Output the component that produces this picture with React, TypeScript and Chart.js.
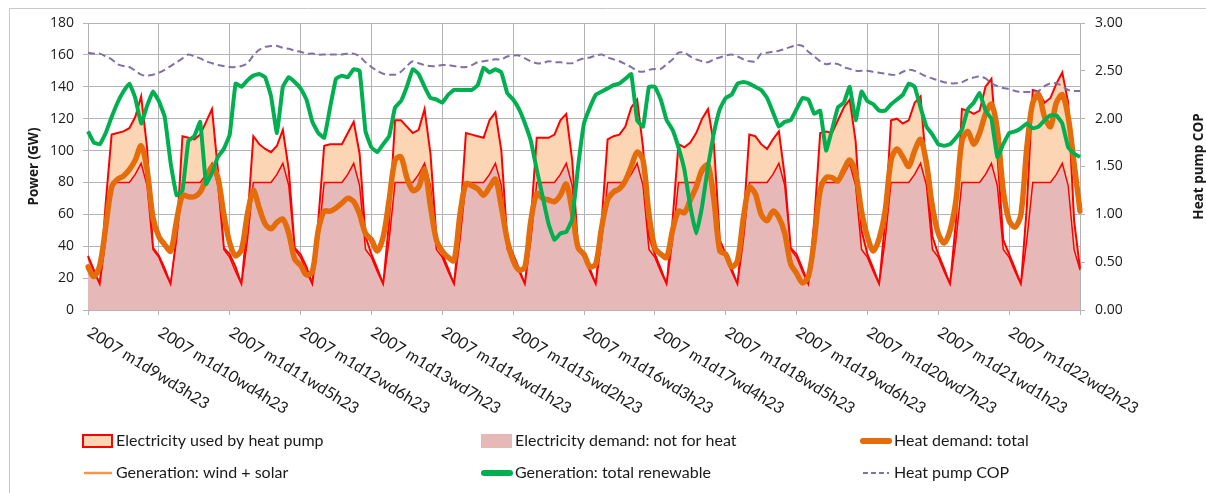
import React, { useEffect, useRef } from 'react';
import { Chart, registerables } from 'chart.js';

Chart.register(...registerables);

// Day tick labels (one every 24 h, at hour 23)
const dayLabels = [
  '2007 m1d9wd3h23', '2007 m1d10wd4h23', '2007 m1d11wd5h23', '2007 m1d12wd6h23',
  '2007 m1d13wd7h23', '2007 m1d14wd1h23', '2007 m1d15wd2h23', '2007 m1d16wd3h23',
  '2007 m1d17wd4h23', '2007 m1d18wd5h23', '2007 m1d19wd6h23', '2007 m1d20wd7h23',
  '2007 m1d21wd1h23', '2007 m1d22wd2h23',
];

// Values sampled every 2 hours, starting at d9 h23 (GW)
const baseDemand = [
  33, 24, 16, 44, 80, 80, 80, 80, 85, 92, 78, 38,
  33, 24, 16, 44, 80, 80, 80, 80, 85, 92, 78, 38,
  33, 24, 16, 44, 80, 80, 80, 80, 85, 92, 78, 38,
  33, 24, 16, 44, 80, 80, 80, 80, 85, 92, 78, 38,
  33, 24, 16, 44, 80, 80, 80, 80, 85, 92, 78, 38,
  33, 24, 16, 44, 80, 80, 80, 80, 85, 92, 78, 38,
  33, 24, 16, 44, 80, 80, 80, 80, 85, 92, 78, 38,
  33, 24, 16, 44, 80, 80, 80, 80, 85, 92, 78, 38,
  33, 24, 16, 44, 80, 80, 80, 80, 85, 92, 78, 38,
  33, 24, 16, 44, 80, 80, 80, 80, 85, 92, 78, 38,
  33, 24, 16, 44, 80, 80, 80, 80, 85, 92, 78, 38,
  33, 24, 16, 44, 80, 80, 80, 80, 85, 92, 78, 38,
  33, 24, 16, 44, 80, 80, 80, 80, 85, 92, 78, 38,
  33, 24, 16, 44, 80, 80, 80, 80, 85, 92, 78, 38,
  25,
];

// Base demand + electricity used by heat pump (GW)
const totalDemand = [
  34, 25, 16, 67, 110, 111, 112, 114, 121, 134, 102, 39,
  34, 26, 16, 46, 109, 108, 107, 110, 118, 126, 88, 39,
  35, 27, 16, 56, 109, 104, 101, 99, 103, 113, 88, 39,
  35, 27, 16, 56, 103, 104, 104, 104, 111, 118, 98, 46,
  35, 26, 16, 56, 119, 119, 115, 111, 113, 126, 98, 46,
  35, 26, 16, 56, 111, 110, 109, 108, 119, 124, 100, 44,
  35, 26, 16, 56, 108, 108, 108, 110, 119, 123, 94, 39,
  35, 26, 16, 56, 107, 109, 110, 115, 127, 132, 102, 46,
  35, 26, 16, 56, 104, 102, 105, 111, 120, 126, 104, 44,
  35, 26, 16, 56, 110, 109, 104, 101, 107, 112, 84, 39,
  35, 26, 16, 56, 111, 112, 111, 119, 127, 132, 106, 50,
  35, 26, 16, 56, 119, 120, 117, 119, 130, 134, 88, 46,
  35, 26, 16, 56, 126, 125, 123, 125, 140, 145, 98, 44,
  35, 26, 16, 65, 138, 137, 130, 133, 142, 149, 130, 56,
  26,
];

const heatDemand = [
  27, 21, 28, 52, 77, 82, 84, 88, 94, 103, 88, 58,
  46, 41, 37, 56, 72, 71, 71, 74, 82, 90, 83, 60,
  42, 34, 38, 60, 75, 64, 54, 51, 55, 57, 48, 32,
  28, 22, 24, 50, 62, 62, 64, 67, 70, 68, 60, 48,
  44, 37, 46, 69, 94, 96, 83, 75, 77, 88, 65, 44,
  37, 33, 31, 60, 79, 78, 76, 72, 77, 82, 65, 44,
  31, 25, 27, 56, 73, 70, 69, 68, 72, 79, 62, 39,
  35, 27, 29, 52, 69, 74, 76, 81, 90, 99, 94, 60,
  39, 35, 33, 50, 62, 61, 69, 77, 88, 91, 69, 37,
  35, 27, 31, 58, 77, 73, 60, 56, 62, 58, 48, 29,
  23, 17, 21, 44, 75, 83, 83, 81, 88, 94, 86, 62,
  46, 37, 45, 62, 94, 101, 96, 90, 100, 107, 92, 65,
  48, 42, 50, 69, 106, 112, 104, 111, 123, 129, 113, 75,
  56, 52, 60, 102, 130, 135, 121, 115, 130, 135, 121, 92,
  62,
];

const genRenewable = [
  112, 105, 104, 111, 121, 130, 137, 142, 133, 117, 128, 137,
  131, 121, 92, 72, 75, 106, 109, 118, 79, 86, 96, 101,
  110, 142, 140, 144, 147, 148, 146, 134, 111, 140, 146, 143,
  139, 132, 118, 111, 108, 127, 145, 147, 146, 151, 150, 112,
  102, 99, 104, 109, 127, 131, 140, 151, 148, 140, 133, 132,
  130, 135, 138, 138, 138, 138, 141, 152, 149, 151, 149, 136,
  132, 126, 117, 106, 88, 71, 54, 44, 48, 49, 57, 90,
  117, 127, 135, 137, 139, 141, 142, 145, 148, 119, 115, 140,
  140, 132, 119, 113, 102, 88, 65, 48, 65, 90, 111, 126,
  133, 135, 142, 143, 142, 140, 138, 133, 124, 115, 118, 119,
  126, 133, 132, 123, 125, 100, 113, 127, 130, 140, 119, 137,
  131, 129, 125, 125, 129, 132, 135, 142, 140, 127, 115, 110,
  104, 103, 104, 108, 113, 126, 130, 136, 125, 120, 96, 104,
  111, 112, 114, 117, 114, 115, 119, 122, 122, 117, 102, 98,
  96,
];

// Not visible separately in the picture (hidden under total renewable)
const genWindSolar: number[] = [];

const heatPumpCOP = [
  2.69, 2.68, 2.68, 2.65, 2.62, 2.57, 2.55, 2.54, 2.50, 2.46, 2.45, 2.46,
  2.48, 2.51, 2.55, 2.59, 2.63, 2.67, 2.65, 2.63, 2.60, 2.58, 2.56, 2.55,
  2.54, 2.54, 2.55, 2.58, 2.66, 2.72, 2.75, 2.76, 2.76, 2.74, 2.73, 2.71,
  2.70, 2.68, 2.68, 2.67, 2.67, 2.67, 2.67, 2.67, 2.68, 2.68, 2.65, 2.59,
  2.54, 2.50, 2.47, 2.46, 2.46, 2.49, 2.55, 2.60, 2.58, 2.56, 2.55, 2.55,
  2.56, 2.56, 2.55, 2.54, 2.54, 2.56, 2.59, 2.60, 2.61, 2.62, 2.62, 2.65,
  2.66, 2.66, 2.63, 2.60, 2.58, 2.58, 2.60, 2.59, 2.59, 2.58, 2.58, 2.61,
  2.63, 2.64, 2.66, 2.67, 2.64, 2.62, 2.60, 2.57, 2.54, 2.50, 2.49, 2.51,
  2.52, 2.52, 2.57, 2.62, 2.69, 2.69, 2.65, 2.62, 2.60, 2.59, 2.62, 2.64,
  2.66, 2.67, 2.65, 2.62, 2.60, 2.60, 2.68, 2.69, 2.70, 2.71, 2.73, 2.75,
  2.77, 2.76, 2.70, 2.65, 2.60, 2.57, 2.58, 2.57, 2.54, 2.52, 2.50, 2.50,
  2.50, 2.49, 2.48, 2.47, 2.46, 2.46, 2.49, 2.51, 2.50, 2.47, 2.44, 2.42,
  2.40, 2.38, 2.37, 2.37, 2.38, 2.41, 2.43, 2.44, 2.42, 2.37, 2.34, 2.32,
  2.31, 2.29, 2.28, 2.28, 2.28, 2.29, 2.34, 2.37, 2.37, 2.34, 2.30, 2.29,
  2.29,
];

const pointLabels = baseDemand.map((_, i) => String(i));

const GRID = '#B4B4B4';
const RED = '#FF0000';
const PEACH = '#FCD5B4';
const PINK = '#E6B9B8';
const ORANGE = '#E46C0A';
const LIGHT_ORANGE = '#F79646';
const GREEN = '#00B050';
const PURPLE = '#8170A6';
const TEXT = '#1a1a1a';

const decorPlugin = {
  id: 'decor',
  afterDraw(chart: any) {
    const ctx = chart.ctx as CanvasRenderingContext2D;
    const xs = chart.scales.x;
    const area = chart.chartArea;

    // frame
    ctx.save();
    ctx.strokeStyle = '#C8C8C8';
    ctx.lineWidth = 1;
    ctx.beginPath();
    ctx.moveTo(9.5, 493);
    ctx.lineTo(9.5, 8.5);
    ctx.lineTo(1206, 8.5);
    ctx.stroke();
    ctx.restore();

    // rotated x labels
    ctx.save();
    ctx.font = '16px Lato, "Open Sans", sans-serif';
    ctx.fillStyle = TEXT;
    ctx.textAlign = 'left';
    ctx.textBaseline = 'middle';
    dayLabels.forEach((lab, d) => {
      const px = xs.getPixelForValue(d * 12);
      ctx.save();
      ctx.translate(px + 1, area.bottom + 21);
      ctx.rotate((32 * Math.PI) / 180);
      ctx.fillText(lab, 0, 0);
      ctx.restore();
    });
    ctx.restore();

    // axis titles
    const midY = (area.top + area.bottom) / 2;
    ctx.save();
    ctx.font = 'bold 13.5px "Open Sans", sans-serif';
    ctx.fillStyle = TEXT;
    ctx.textAlign = 'center';
    ctx.textBaseline = 'middle';
    ctx.save();
    ctx.translate(34, midY);
    ctx.rotate(-Math.PI / 2);
    ctx.fillText('Power (GW)', 0, 0);
    ctx.restore();
    ctx.save();
    ctx.translate(1199, midY);
    ctx.rotate(-Math.PI / 2);
    ctx.fillText('Heat pump COP', 0, 0);
    ctx.restore();
    ctx.restore();

    // legend
    const items = [
      { text: 'Electricity used by heat pump', kind: 'boxBorder', x: 82, y: 441 },
      { text: 'Electricity demand: not for heat', kind: 'box', x: 481, y: 441 },
      { text: 'Heat demand: total', kind: 'thick', color: ORANGE, x: 860, y: 441 },
      { text: 'Generation: wind + solar', kind: 'thin', color: LIGHT_ORANGE, x: 82, y: 473 },
      { text: 'Generation: total renewable', kind: 'thick', color: GREEN, x: 481, y: 473 },
      { text: 'Heat pump COP', kind: 'dash', color: PURPLE, x: 860, y: 473 },
    ];
    ctx.save();
    items.forEach((it: any) => {
      const { x, y } = it;
      ctx.save();
      if (it.kind === 'boxBorder') {
        ctx.fillStyle = PEACH;
        ctx.fillRect(x + 1, y - 6, 29, 12);
        ctx.strokeStyle = RED;
        ctx.lineWidth = 2;
        ctx.strokeRect(x + 1, y - 6, 29, 12);
      } else if (it.kind === 'box') {
        ctx.fillStyle = PINK;
        ctx.fillRect(x, y - 7, 31, 14);
      } else {
        ctx.strokeStyle = it.color;
        ctx.lineCap = it.kind === 'dash' ? 'butt' : 'round';
        ctx.lineWidth = it.kind === 'thick' ? 6 : it.kind === 'thin' ? 2.5 : 2;
        if (it.kind === 'dash') ctx.setLineDash([5, 3]);
        ctx.beginPath();
        ctx.moveTo(x + 3, y);
        ctx.lineTo(x + 29, y);
        ctx.stroke();
      }
      ctx.restore();
      ctx.font = '16px Lato, "Open Sans", sans-serif';
      ctx.fillStyle = TEXT;
      ctx.textAlign = 'left';
      ctx.textBaseline = 'middle';
      ctx.fillText(it.text, x + 34, y);
    });
    ctx.restore();
  },
};

export default function App() {
  const canvasRef = useRef<HTMLCanvasElement | null>(null);

  useEffect(() => {
    if (!canvasRef.current) return;
    const chart = new Chart(canvasRef.current, {
      type: 'line',
      data: {
        labels: pointLabels,
        datasets: [
          {
            label: 'Electricity demand: not for heat',
            data: baseDemand,
            yAxisID: 'y',
            fill: 'origin',
            backgroundColor: PINK,
            borderColor: RED,
            borderWidth: 1.5,
            tension: 0,
            order: 5,
          },
          {
            label: 'Electricity used by heat pump',
            data: totalDemand,
            yAxisID: 'y',
            fill: '-1',
            backgroundColor: PEACH,
            borderColor: RED,
            borderWidth: 2,
            tension: 0,
            order: 6,
          },
          {
            label: 'Heat demand: total',
            data: heatDemand,
            yAxisID: 'y',
            fill: false,
            borderColor: ORANGE,
            borderWidth: 5.5,
            tension: 0.3,
            borderJoinStyle: 'round',
            borderCapStyle: 'round',
            order: 4,
          },
          {
            label: 'Generation: wind + solar',
            data: genWindSolar,
            yAxisID: 'y',
            fill: false,
            borderColor: LIGHT_ORANGE,
            borderWidth: 2,
            order: 3,
          },
          {
            label: 'Generation: total renewable',
            data: genRenewable,
            yAxisID: 'y',
            fill: false,
            borderColor: GREEN,
            borderWidth: 4,
            tension: 0.1,
            borderJoinStyle: 'round',
            order: 2,
          },
          {
            label: 'Heat pump COP',
            data: heatPumpCOP,
            yAxisID: 'y2',
            fill: false,
            borderColor: PURPLE,
            borderWidth: 2,
            borderDash: [7, 4],
            tension: 0.3,
            order: 1,
          },
        ],
      },
      options: {
        responsive: false,
        animation: false,
        events: [],
        layout: { padding: { top: 23, left: 0, right: 0, bottom: 0 } },
        elements: { point: { radius: 0 } },
        plugins: { legend: { display: false }, tooltip: { enabled: false } },
        scales: {
          x: {
            type: 'category',
            offset: false,
            afterBuildTicks: (s: any) => {
              s.ticks = s.ticks.filter((t: any) => t.value % 12 === 0);
            },
            afterFit: (s: any) => {
              s.height = 183;
            },
            ticks: { display: false, autoSkip: false },
            grid: { color: GRID, tickLength: 5, drawTicks: true },
            border: { color: GRID },
          },
          y: {
            position: 'left',
            min: 0,
            max: 180,
            afterFit: (s: any) => {
              s.width = 88;
            },
            ticks: {
              stepSize: 20,
              padding: 9,
              color: TEXT,
              font: { family: '"Open Sans", sans-serif', size: 14 },
            },
            grid: { color: GRID, tickLength: 5 },
            border: { color: GRID },
          },
          y2: {
            position: 'right',
            min: 0,
            max: 3,
            afterFit: (s: any) => {
              s.width = 126;
            },
            ticks: {
              stepSize: 0.5,
              padding: 10,
              color: TEXT,
              font: { family: '"Open Sans", sans-serif', size: 14 },
              callback: (v: any) => Number(v).toFixed(2),
            },
            grid: { drawOnChartArea: false, color: GRID, tickLength: 5 },
            border: { color: GRID },
          },
        },
      } as any,
      plugins: [decorPlugin],
    });
    return () => chart.destroy();
  }, []);

  return (
    <div style={{ position: 'absolute', left: 0, top: 0, width: 1206, height: 493, background: '#fff' }}>
      <canvas ref={canvasRef} width={1206} height={493} style={{ display: 'block' }} />
    </div>
  );
}
